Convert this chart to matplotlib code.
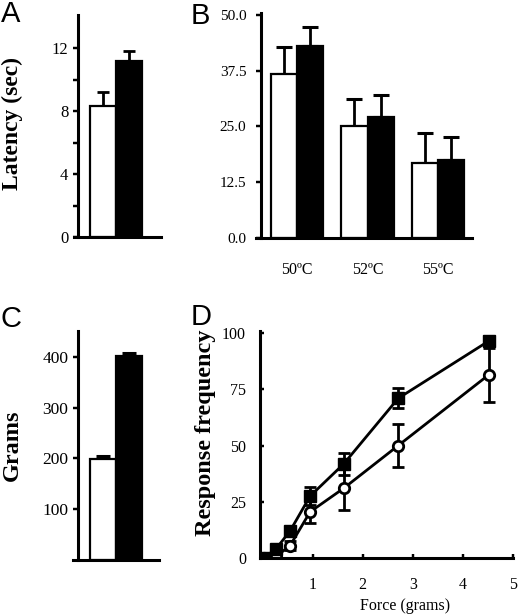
import matplotlib
matplotlib.use("Agg")
import matplotlib.pyplot as plt

# panel A: tail flick latency
lat_groups = ["WT", "KO"]
lat_mean = [8.3, 11.15]
lat_err = [0.9, 0.65]

# panel B: hot plate
temps = ["50ºC", "52ºC", "55ºC"]
hot_wt = [36.8, 25.1, 16.9]
hot_wt_err = [6.0, 6.0, 6.6]
hot_ko = [43.0, 27.2, 17.5]
hot_ko_err = [4.3, 4.9, 5.1]

# panel C: paw pressure
grams_mean = [198, 401]
grams_err = [7, 7]

# panel D: von Frey
force = [0.02, 0.26, 0.55, 0.95, 1.62, 2.71, 4.52]
resp_ko = [0, 3.8, 12, 27.5, 41.8, 71, 96.5]
resp_ko_err = [0, 0, 2, 4, 5, 4.5, 2]
resp_wt = [0, 0.5, 5.5, 20.5, 31, 50, 81.5]
resp_wt_err = [0, 0, 2, 5, 9.5, 9.5, 12]

W, H = 522, 616
serif = "Liberation Serif"
sans = "Liberation Sans"


def px(l, t, r, b):
    return [l / W, 1 - b / H, (r - l) / W, (b - t) / H]


def style(ax, lw=2.2):
    for s in ["top", "right"]:
        ax.spines[s].set_visible(False)
    for s in ["left", "bottom"]:
        ax.spines[s].set_linewidth(lw)
    ax.tick_params(which="both", width=lw * 0.8, length=3.5,
                   labelfontfamily=serif)


fig = plt.figure(figsize=(W / 100, H / 100), dpi=100)
fillc = ["white", "black"]

# ---- A
ax = fig.add_axes(px(74, 15, 161, 237))
for i in range(2):
    ax.bar(1.1 + i, lat_mean[i], width=1, color=fillc[i], edgecolor="black",
           linewidth=1.6, zorder=2)
    ax.errorbar(1.1 + i, lat_mean[i], yerr=[[0], [lat_err[i]]], fmt="none",
                ecolor="black", elinewidth=2, capsize=4.5, capthick=2, zorder=1)
ax.set_xlim(0, 87 / 26)
ax.set_ylim(0, 14.1)
ax.set_yticks([0, 4, 8, 12])
ax.set_yticks([2, 6, 10], minor=True)
ax.set_xticks([])
style(ax)
ax.tick_params(axis="y", labelsize=12)
ax.spines["left"].set_position(("outward", -3))

# ---- B
ax = fig.add_axes(px(256, 13, 472, 238))
xs = list(range(len(temps)))
bw = 0.37
for i in xs:
    ax.bar(i - bw / 2, hot_wt[i], width=bw, color="white", edgecolor="black",
           linewidth=1.6, zorder=2)
    ax.bar(i + bw / 2, hot_ko[i], width=bw, color="black", edgecolor="black",
           linewidth=1.6, zorder=2)
    ax.errorbar(i - bw / 2, hot_wt[i], yerr=[[0], [hot_wt_err[i]]], fmt="none",
                ecolor="black", elinewidth=2, capsize=6, capthick=2.2, zorder=1)
    ax.errorbar(i + bw / 2, hot_ko[i], yerr=[[0], [hot_ko_err[i]]], fmt="none",
                ecolor="black", elinewidth=2, capsize=6, capthick=2.2, zorder=1)
ax.set_xlim(-0.58, 2.48)
ax.set_ylim(0, 50.4)
ax.set_yticks([0, 12.5, 25, 37.5, 50])
ax.set_yticklabels(["0.0", "12.5", "25.0", "37.5", "50.0"])
ax.set_xticks(xs)
ax.set_xticklabels(temps)
style(ax)
ax.spines["left"].set_position(("outward", -3.6))
ax.tick_params(axis="x", length=0, pad=17, labelsize=11.5)
ax.tick_params(axis="y", labelsize=11, pad=7)

# ---- C
ax = fig.add_axes(px(73, 331, 159, 560))
for i in range(2):
    ax.bar(1.15 + i, grams_mean[i], width=1, color=fillc[i], edgecolor="black",
           linewidth=1.6, zorder=2)
    ax.errorbar(1.15 + i, grams_mean[i], yerr=[[0], [grams_err[i]]], fmt="none",
                ecolor="black", elinewidth=2, capsize=5, capthick=2.2, zorder=1)
ax.set_xlim(0, 86 / 26)
ax.set_ylim(0, 451)
ax.set_yticks([100, 200, 300, 400])
ax.set_xticks([])
style(ax)
ax.spines["left"].set_position(("outward", -3.6))
ax.tick_params(axis="y", labelsize=12.5)

# ---- D
ax = fig.add_axes(px(260, 331, 513, 558))
ax.errorbar(force, resp_wt, yerr=resp_wt_err, color="black", lw=2,
            marker="o", ms=7.5, mfc="white", mec="black", mew=2,
            elinewidth=2, capsize=4, capthick=2, zorder=2)
ax.errorbar(force, resp_ko, yerr=resp_ko_err, color="black", lw=2,
            marker="s", ms=8, mfc="black", mec="black",
            elinewidth=2, capsize=4, capthick=2, zorder=3)
ax.set_xlim(-0.05, 5.0)
ax.set_ylim(0, 100.9)
ax.set_xticks([1, 2, 3, 4, 5])
ax.set_yticks([0, 25, 50, 75, 100])
style(ax)
ax.tick_params(direction="in", length=3)
ax.tick_params(axis="y", pad=10, labelsize=11.5)
ax.tick_params(axis="x", pad=14, labelsize=11.5)

# axis titles
fig.text(12 / W, 1 - 124 / H, "Latency (sec)", rotation=90, ha="center",
         va="center", fontfamily=serif, fontweight="bold", fontsize=17)
fig.text(12 / W, 1 - 445 / H, "Grams", rotation=90, ha="center",
         va="center", fontfamily=serif, fontweight="bold", fontsize=17.5)
fig.text(205 / W, 1 - 433 / H, "Response frequency", rotation=90, ha="center",
         va="center", fontfamily=serif, fontweight="bold", fontsize=17.5)
fig.text(405 / W, 1 - 606 / H, "Force (grams)", ha="center", va="center",
         fontfamily=serif, fontsize=11.5)

# panel letters
for lab, x, y in [("A", 1, 0), ("B", 191, 2), ("C", 1, 305), ("D", 191, 303)]:
    fig.text(x / W, 1 - y / H, lab, ha="left", va="top", fontfamily=sans,
             fontsize=21)

fig.savefig("out.png", dpi=100)
